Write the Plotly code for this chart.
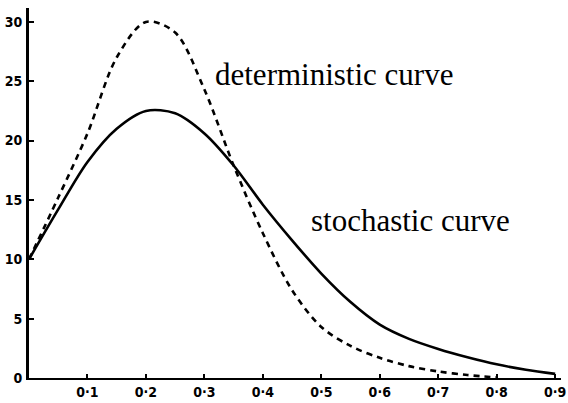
import plotly.graph_objects as go

# Proportion on the horizontal axis
x_vals = [0.0, 0.05, 0.10, 0.15, 0.20, 0.25, 0.30, 0.35, 0.40, 0.45,
          0.50, 0.55, 0.60, 0.65, 0.70, 0.75, 0.80, 0.85, 0.90]

# Stochastic model (solid line)
stochastic = [10.0, 14.2, 18.2, 21.0, 22.5, 22.3, 20.6, 17.9, 14.6, 11.6,
              8.8, 6.4, 4.5, 3.3, 2.45, 1.75, 1.15, 0.7, 0.35]

# Deterministic model (dashed line), ends at 0.8
det_x = [0.0, 0.05, 0.10, 0.15, 0.20, 0.25, 0.30, 0.35, 0.40, 0.45,
         0.50, 0.55, 0.60, 0.65, 0.70, 0.75, 0.80]
deterministic = [10.0, 15.2, 20.6, 27.0, 30.0, 29.1, 24.3, 17.9, 12.2, 7.4,
                 4.3, 2.7, 1.7, 1.0, 0.55, 0.25, 0.05]

x_ticks = [0.1, 0.2, 0.3, 0.4, 0.5, 0.6, 0.7, 0.8, 0.9]
x_tick_text = ["0·1", "0·2", "0·3", "0·4", "0·5", "0·6", "0·7", "0·8", "0·9"]
y_ticks = [0, 5, 10, 15, 20, 25, 30]
y_tick_text = ["0", "5", "10", "15", "20", "25", "30"]

tick_font = dict(family="DejaVu Sans Condensed, Liberation Sans Narrow, sans-serif",
                 size=14, color="black", weight="bold")
label_font = dict(family="Liberation Serif, Times New Roman, serif",
                  size=31, color="black")

fig = go.Figure()
fig.add_trace(go.Scatter(
    x=det_x, y=deterministic, mode="lines",
    line=dict(color="black", width=2.6, dash="6px,5px", shape="spline", smoothing=0.9),
    showlegend=False, hoverinfo="skip"))
fig.add_trace(go.Scatter(
    x=x_vals, y=stochastic, mode="lines",
    line=dict(color="black", width=2.6, shape="spline", smoothing=0.9),
    showlegend=False, hoverinfo="skip"))

fig.add_annotation(x=0.315, y=25.6, xref="x", yref="y", text="deterministic curve",
                   showarrow=False, xanchor="left", yanchor="middle", font=label_font)
fig.add_annotation(x=0.479, y=13.3, xref="x", yref="y", text="stochastic curve",
                   showarrow=False, xanchor="left", yanchor="middle", font=label_font)

fig.update_layout(
    width=568, height=403,
    margin=dict(l=29, r=2, t=8, b=25),
    paper_bgcolor="white", plot_bgcolor="white",
    xaxis=dict(range=[0, 0.91], tickvals=x_ticks, ticktext=x_tick_text,
               ticks="inside", ticklen=4, tickwidth=1.5, tickcolor="black",
               showline=True, linecolor="black", linewidth=2.2,
               showgrid=False, zeroline=False, tickfont=tick_font,
               ticklabelstandoff=0, ticklabeloverflow="allow"),
    yaxis=dict(range=[0, 31.17], tickvals=y_ticks, ticktext=y_tick_text,
               ticks="inside", ticklen=5, tickwidth=1.5, tickcolor="black",
               showline=True, linecolor="black", linewidth=2.8,
               showgrid=False, zeroline=False, tickfont=tick_font,
               ticklabelstandoff=1, ticklabeloverflow="allow"),
)

fig.write_html("out.html")
